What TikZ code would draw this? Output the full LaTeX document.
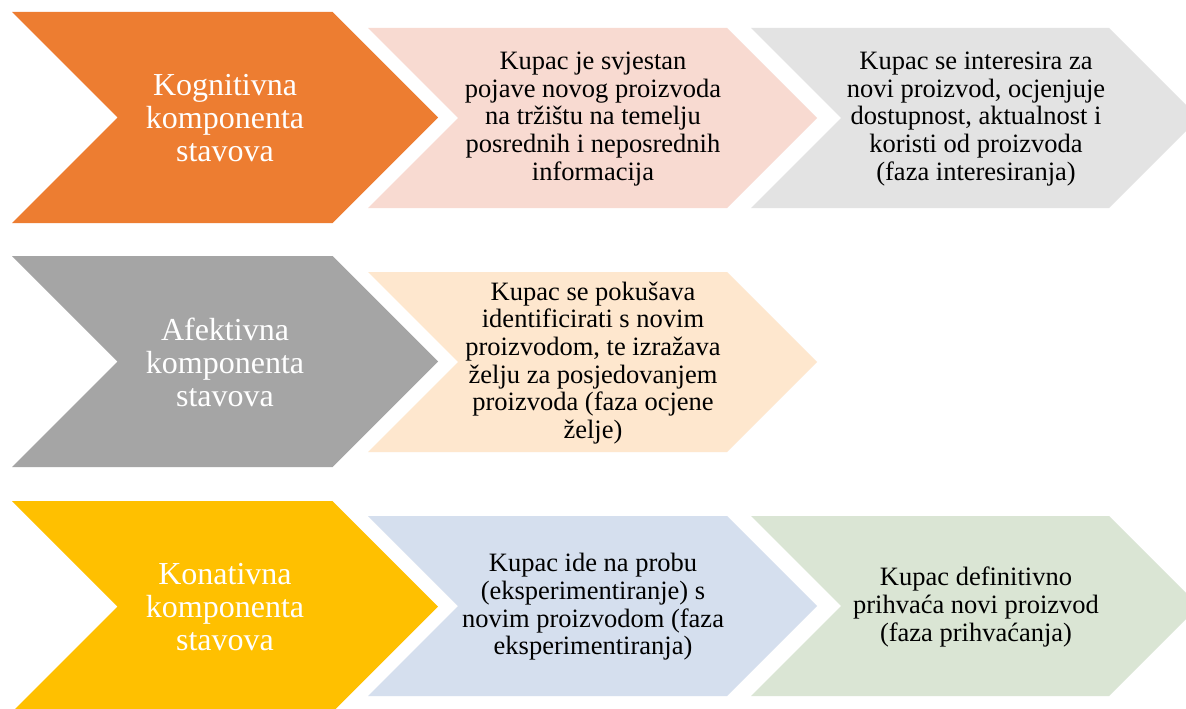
\documentclass[tikz,border=0pt]{standalone}
\usepackage{fontspec}
\setmainfont{Liberation Serif}
\definecolor{orangeA}{HTML}{ED7D31}
\definecolor{pinkA}{HTML}{F8DAD1}
\definecolor{greyL}{HTML}{E3E3E3}
\definecolor{greyA}{HTML}{A5A5A5}
\definecolor{peachA}{HTML}{FEE7CE}
\definecolor{yellowA}{HTML}{FFC000}
\definecolor{blueL}{HTML}{D5DFEE}
\definecolor{greenL}{HTML}{DAE5D4}
\newcommand\chevronshape[5]{%
  \fill[#5] (#1,#2) -- ++({#3-#4/2},0) -- ++({#4/2},{#4/2}) -- ++({-#4/2},{#4/2})
   -- ++({-(#3-#4/2)},0) -- ++({#4/2},{-#4/2}) -- cycle;}
\tikzset{
  bigtext/.style={text=white, align=center, font=\fontsize{32}{33}\selectfont, inner sep=0pt},
  smalltext/.style={text=black, align=center, font=\fontsize{26.5}{27.7}\selectfont, inner sep=0pt}
}
\begin{document}
\begin{tikzpicture}[x=1pt,y=-1pt]
\useasboundingbox (0,0) rectangle (1186,709);
\clip (0,0) rectangle (1186,709);
\fill[white] (0,0) rectangle (1186,709);
% row 1
\chevronshape{12}{12}{426}{211}{orangeA}
\chevronshape{368}{28}{449}{180}{pinkA}
\chevronshape{751}{28}{448}{180}{greyL}
\node[bigtext] (k1) at (225,118) {Kognitivna\\komponenta\\stavova};
\node[smalltext] (k2) at (593,119) {Kupac je svjestan\\pojave novog proizvoda\\na tržištu na temelju\\posrednih i neposrednih\\informacija};
\node[smalltext] (k3) at (976,119) {Kupac se interesira za\\novi proizvod, ocjenjuje\\dostupnost, aktualnost i\\koristi od proizvoda\\(faza interesiranja)};
% row 2
\chevronshape{12}{256}{426}{211}{greyA}
\chevronshape{368}{272}{449}{180}{peachA}
\node[bigtext] (a1) at (225,362) {Afektivna\\komponenta\\stavova};
\node[smalltext] (a2) at (593,363) {Kupac se pokušava\\identificirati s novim\\proizvodom, te izražava\\želju za posjedovanjem\\proizvoda (faza ocjene\\želje)};
% row 3
\chevronshape{12}{501}{426}{211}{yellowA}
\chevronshape{368}{516}{449}{180}{blueL}
\chevronshape{751}{516}{448}{180}{greenL}
\node[bigtext] (c1) at (225,607) {Konativna\\komponenta\\stavova};
\node[smalltext] (c2) at (593,607) {Kupac ide na probu\\(eksperimentiranje) s\\novim proizvodom (faza\\eksperimentiranja)};
\node[smalltext] (c3) at (976,607) {Kupac definitivno\\prihvaća novi proizvod\\(faza prihvaćanja)};
\end{tikzpicture}
\end{document}
